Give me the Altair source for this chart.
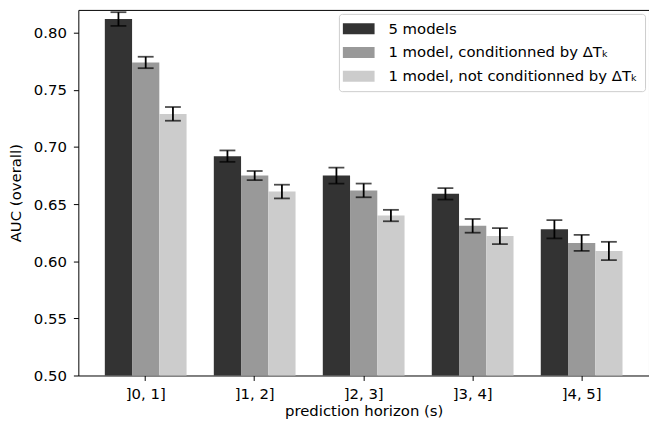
import altair as alt
import pandas as pd

horizons = ["]0, 1]", "]1, 2]", "]2, 3]", "]3, 4]", "]4, 5]"]
models = ["5 models", "1 model, conditionned by ΔTₖ", "1 model, not conditionned by ΔTₖ"]
auc_5 = [0.812, 0.692, 0.675, 0.659, 0.628]
auc_cond = [0.774, 0.675, 0.662, 0.631, 0.616]
auc_nocond = [0.729, 0.661, 0.640, 0.622, 0.609]
err_5 = [0.006, 0.005, 0.007, 0.005, 0.008]
err_cond = [0.005, 0.004, 0.006, 0.006, 0.007]
err_nocond = [0.006, 0.006, 0.005, 0.007, 0.008]
colors = ["#333333", "#999999", "#cccccc"]
y_ticks = [0.50, 0.55, 0.60, 0.65, 0.70, 0.75, 0.80]

rows = []
for m, vals, errs in zip(models, [auc_5, auc_cond, auc_nocond], [err_5, err_cond, err_nocond]):
    for h, v, e in zip(horizons, vals, errs):
        rows.append({"horizon": h, "model": m, "auc": v, "lo": v - e, "hi": v + e, "base": 0.5})
df = pd.DataFrame(rows)

FONT = "DejaVu Sans"
FS = 15

x_enc = alt.X("horizon:N", sort=horizons,
              scale=alt.Scale(paddingInner=0.25, paddingOuter=0.243),
              axis=alt.Axis(title="prediction horizon (s)", labelAngle=0, domain=False,
                            ticks=True, tickSize=5, tickColor="black", tickWidth=1,
                            labelPadding=6,
                            labelFontSize=FS, titleFontSize=FS, titlePadding=2,
                            labelColor="black", titleColor="black",
                            labelFont=FONT, titleFont=FONT, titleFontWeight="normal"))
xo_enc = alt.XOffset("model:N", sort=models, scale=alt.Scale(paddingInner=0, paddingOuter=0))
y_scale = alt.Scale(domain=[0.5, 0.82], nice=False, zero=False)

bars = alt.Chart(df).mark_bar().encode(
    x=x_enc,
    xOffset=xo_enc,
    y=alt.Y("auc:Q", scale=y_scale,
            axis=alt.Axis(title="AUC (overall)", values=y_ticks, format=".2f", domain=False,
                          ticks=True, tickSize=5, tickColor="black", tickWidth=1,
                          labelPadding=7, grid=False,
                          labelFontSize=FS, titleFontSize=FS, titlePadding=10,
                          labelColor="black", titleColor="black",
                          labelFont=FONT, titleFont=FONT, titleFontWeight="normal")),
    y2="base:Q",
    color=alt.Color("model:N", sort=models,
                    scale=alt.Scale(domain=models, range=colors),
                    legend=alt.Legend(title=None, orient="top-right", offset=4,
                                      symbolType="M-2,-0.7L2,-0.7L2,0.7L-2,0.7Z",
                                      symbolSize=256, symbolStrokeWidth=0, symbolOpacity=1,
                                      labelFontSize=FS, labelFont=FONT, labelColor="black",
                                      labelOffset=22, symbolOffset=5, rowPadding=8,
                                      padding=7, strokeColor="#cccccc", fillColor="white",
                                      cornerRadius=3, labelLimit=400)),
)

rules = alt.Chart(df).mark_rule(color="black", strokeWidth=1.8).encode(
    x=alt.X("horizon:N", sort=horizons),
    xOffset=alt.XOffset("model:N", sort=models),
    y=alt.Y("lo:Q", scale=y_scale),
    y2="hi:Q",
)
caps_lo = alt.Chart(df).mark_tick(color="black", orient="horizontal", size=16, thickness=1.8).encode(
    x=alt.X("horizon:N", sort=horizons),
    xOffset=alt.XOffset("model:N", sort=models),
    y=alt.Y("lo:Q", scale=y_scale),
)
caps_hi = alt.Chart(df).mark_tick(color="black", orient="horizontal", size=16, thickness=1.8).encode(
    x=alt.X("horizon:N", sort=horizons),
    xOffset=alt.XOffset("model:N", sort=models),
    y=alt.Y("hi:Q", scale=y_scale),
)

chart = alt.layer(bars, rules, caps_lo, caps_hi).properties(
    width=576, height=369,
    autosize=alt.AutoSizeParams(type="none"),
    padding={"left": 71, "top": 0, "right": 0, "bottom": 44},
).configure(font=FONT).configure_view(stroke="black", strokeWidth=1)

chart.save("out.html", embed_options={"renderer": "svg", "actions": False})
